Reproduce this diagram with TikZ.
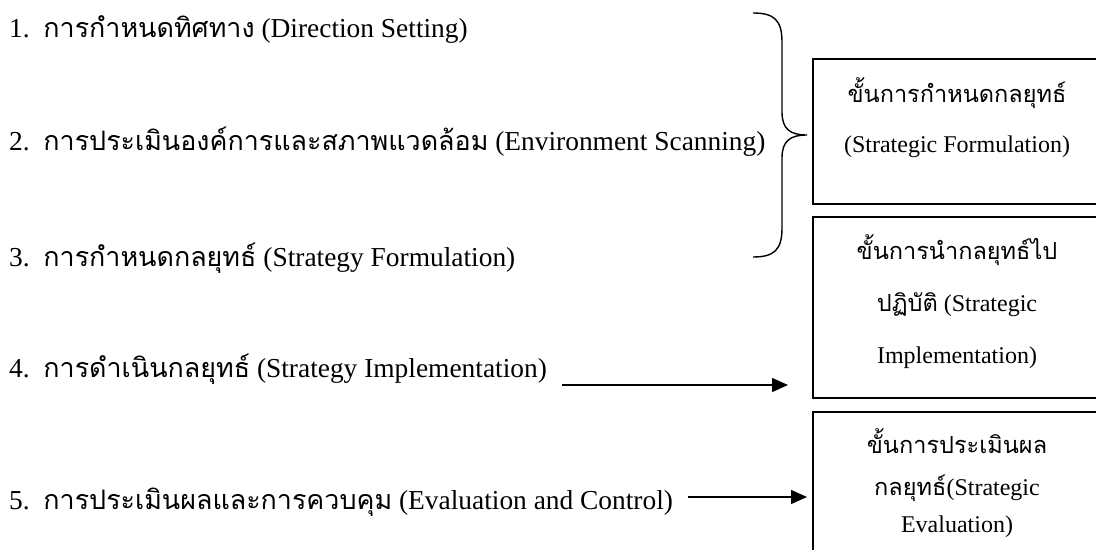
\documentclass[tikz,border=0pt]{standalone}
\usepackage{fontspec}
\setmainfont{Liberation Serif}
\newfontfamily\thaifont[Script=Thai,Scale=0.98]{Loma}
\newcommand{\tht}[1]{{\thaifont #1}}
\usetikzlibrary{arrows.meta}
\begin{document}
\begin{tikzpicture}[x=1bp,y=-1bp,
  lbl/.style={anchor=base west, inner sep=0pt, font=\fontsize{27.4bp}{32bp}\selectfont},
  btxt/.style={anchor=base, inner sep=0pt, font=\fontsize{24bp}{28bp}\selectfont},
  frame/.style={draw, line width=1.5bp, inner sep=0pt, minimum width=288bp},
  arr/.style={line width=1.4bp, -{Triangle[length=16bp,width=14bp]}},
  brace/.style={line width=1.4bp}]
\useasboundingbox (0,0) rectangle (1096,550);
\clip (0,0) rectangle (1096,550);
% left list
\node[lbl] (l1) at (9,38)  {1.\ \ \tht{การกำหนดทิศทาง} (Direction Setting)};
\node[lbl] (l2) at (9,151) {2.\ \ \tht{การประเมินองค์การและสภาพแวดล้อม} (Environment Scanning)};
\node[lbl] (l3) at (9,267) {3.\ \ \tht{การกำหนดกลยุทธ์} (Strategy Formulation)};
\node[lbl] (l4) at (9,378) {4.\ \ \tht{การดำเนินกลยุทธ์} (Strategy Implementation)};
\node[lbl] (l5) at (9,509) {5.\ \ \tht{การประเมินผลและการควบคุม} (Evaluation and Control)};
% boxes (right side runs just past the edge)
\node[frame, minimum height=145bp] (b1) at (957,131.5) {};
\node[frame, minimum height=181bp] (b2) at (957,307.5) {};
\node[frame, minimum height=150bp] (b3) at (957,487) {};
% box texts
\node[btxt] (t1a) at (957,103) {\tht{ขั้นการกำหนดกลยุทธ์}};
\node[btxt] (t1b) at (957,153) {(Strategic Formulation)};
\node[btxt] (t2a) at (957,260) {\tht{ขั้นการนำกลยุทธ์ไป}};
\node[btxt] (t2b) at (957,312) {\tht{ปฏิบัติ} (Strategic};
\node[btxt] (t2c) at (957,364) {Implementation)};
\node[btxt] (t3a) at (957,453) {\tht{ขั้นการประเมินผล}};
\node[btxt] (t3b) at (957,495) {\tht{กลยุทธ์}(Strategic};
\node[btxt] (t3c) at (957,532) {Evaluation)};
% brace
\draw[brace] (753,13) .. controls (774,13) and (782,20) .. (782,42) -- (782,112)
  .. controls (782,129) and (790,135) .. (807,135)
  .. controls (790,135) and (782,141) .. (782,158) -- (782,228)
  .. controls (782,250) and (774,257) .. (753,257);
% arrows
\coordinate (a4e) at (788,385);
\coordinate (a5e) at (807,497);
\path (l4.base east |- a4e) ++(15,0) coordinate (a4s);
\path (l5.base east |- a5e) ++(15,0) coordinate (a5s);
\draw[arr] (a4s) -- (a4e);
\draw[arr] (a5s) -- (a5e);
\end{tikzpicture}
\end{document}
